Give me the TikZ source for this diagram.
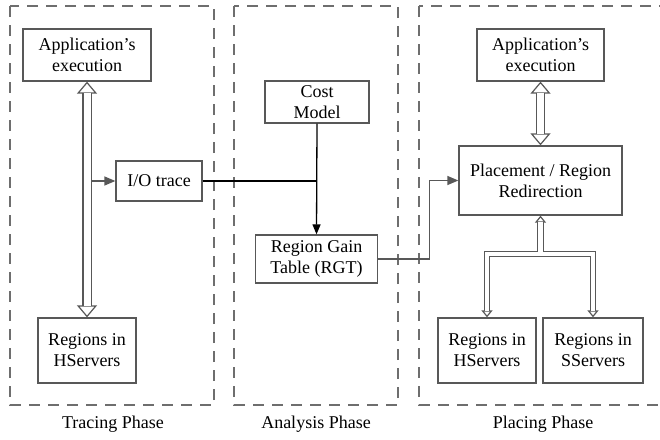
\documentclass[tikz,border=0pt]{standalone}
\usepackage{fontspec}
\setmainfont{Liberation Serif}
\usetikzlibrary{arrows.meta}
\definecolor{boxgray}{RGB}{88,88,88}
\definecolor{dashgray}{RGB}{110,110,110}

\begin{document}
\begin{tikzpicture}[x=1pt,y=-1pt]
            \tikzset{box/.style = {shape=rectangle, draw=boxgray, line width=1.3pt, inner sep=0pt, align=center, font=\fontsize{18}{21}\selectfont}}
            \tikzset{phase/.style = {draw=dashgray, line width=1.2pt, dash pattern=on 11pt off 8pt}}
            \tikzset{label/.style = {inner sep=0pt, font=\fontsize{18}{21}\selectfont}}
            \tikzset{bighead/.tip = {Triangle[open, fill=white, length=12pt, width=20pt, line width=1.2pt]}}
            \tikzset{smallhead/.tip = {Triangle[open, fill=white, length=7pt, width=11pt, line width=1.2pt]}}
            \tikzset{shaft/.style = {arrows=-, draw=boxgray, line width=#1}}
            \tikzset{bigdbl/.style = {draw=boxgray, line width=1.2pt, {Triangle[open, fill=white, length=12pt, width=20pt, line width=1.2pt]}-{Triangle[open, fill=white, length=12pt, width=20pt, line width=1.2pt]},
                postaction={shaft=9.4pt, shorten <=11pt, shorten >=11pt},
                postaction={shaft=7pt, draw=white, shorten <=11pt, shorten >=11pt}}}
            \tikzset{brdbl/.style = {draw=boxgray, line width=1.2pt, {Triangle[open, fill=white, length=7pt, width=11pt, line width=1.2pt]}-{Triangle[open, fill=white, length=7pt, width=11pt, line width=1.2pt]},
                postaction={shaft=6.9pt, shorten <=6.2pt, shorten >=6.2pt},
                postaction={shaft=4.5pt, draw=white, shorten <=6.2pt, shorten >=6.2pt}}}
            \tikzset{stemdbl/.style = {draw=boxgray, line width=1.2pt, {Triangle[open, fill=white, length=7pt, width=11pt, line width=1.2pt]}-,
                postaction={shaft=6.9pt, shorten <=6.2pt},
                postaction={shaft=4.5pt, draw=white, shorten <=6.2pt}}}
            \tikzset{garrow/.style = {draw=boxgray, line width=1.3pt, -{Triangle[length=11pt, width=9pt]}}}
            \tikzset{barrow/.style = {draw=black, line width=1.3pt}}
            \clip (0,0) rectangle (660,439);
            % phases
            \draw[phase] (10,6) rectangle (214,405);
            \draw[phase] (234,6) rectangle (398,405);
            \draw[phase] (419,6) rectangle (668,405);
            \node[label] (tLab) at (113,424) {Tracing Phase};
            \node[label] (aLab) at (316,424) {Analysis Phase};
            \node[label] (pLab) at (543,424) {Placing Phase};
            % boxes
            \node[box, minimum width=128pt, minimum height=52pt] (appL) at (87,55) {Application's\\execution};
            \node[box, minimum width=86pt, minimum height=40pt] (ioT) at (159,181) {I/O trace};
            \node[box, minimum width=98pt, minimum height=65pt] (regL) at (87,350.5) {Regions in\\HServers};
            \node[box, minimum width=104pt, minimum height=42pt] (cost) at (317,102) {Cost\\Model};
            \node[box, minimum width=122pt, minimum height=48pt] (rgt) at (316.5,259) {Region Gain\\Table (RGT)};
            \node[box, minimum width=127pt, minimum height=52pt] (appR) at (540.5,55) {Application's\\execution};
            \node[box, minimum width=163pt, minimum height=69pt] (plc) at (540.5,180.5) {Placement / Region\\Redirection};
            \node[box, minimum width=98pt, minimum height=65pt] (regH) at (487,350.5) {Regions in\\HServers};
            \node[box, minimum width=100pt, minimum height=65pt] (regS) at (593,350.5) {Regions in\\SServers};
            \coordinate (tap) at (92,181);
            \coordinate (jn) at (540.5,254);
            % links
            \draw[bigdbl] (appL.south) -- (regL.north);
            \draw[garrow] (tap) -- (ioT.west);
            \draw[barrow] (ioT.east) -- (ioT.east -| cost.south);
            \draw[barrow, -{Triangle[length=10pt, width=8pt]}] (cost.south) -- (rgt.north);
            \draw[garrow] (rgt.east) -- ++(51,0) |- (plc.west);
            \draw[bigdbl] (appR.south) -- (plc.north);
            \draw[brdbl] (regH.north) |- (jn) -| (regS.north);
            \draw[stemdbl] (plc.south) -- ([yshift=2.25pt]jn);
        \end{tikzpicture}
\end{document}
